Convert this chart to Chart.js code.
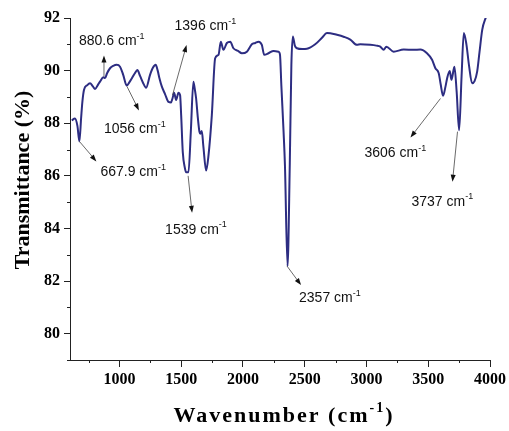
<!DOCTYPE html>
<html lang="en">
<head>
  <meta charset="UTF-8">
  <title>FTIR spectrum</title>
  <script src="https://cdn.jsdelivr.net/npm/chart.js"></script>
  <style>
    body { margin: 0; background: #fff; }
    #wrap { width: 509px; height: 431px; }
  </style>
</head>
<body>
<div id="wrap"><canvas id="ftir" width="509" height="431"></canvas></div>

<script>
  // Spectrum (wavenumber in cm-1, transmittance in %)
  const wavenumbers = [614, 640, 660, 676, 690, 700, 713, 740, 762, 785, 803, 825, 843, 870, 884, 900, 924, 950, 978, 1005,
    1030, 1059, 1080, 1100, 1125, 1145, 1167, 1190, 1216, 1248, 1270, 1294, 1310, 1324, 1343, 1370, 1397, 1418, 1430, 1443,
    1459, 1478, 1491, 1500, 1513, 1530, 1540, 1559, 1578, 1599, 1610, 1621, 1635, 1648, 1655, 1667, 1680, 1702, 1721, 1748,
    1775, 1802, 1821, 1842, 1870, 1897, 1923, 1960, 1991, 2032, 2072, 2100, 2126, 2153, 2172, 2207, 2248, 2288, 2300, 2311,
    2329, 2340, 2361, 2379, 2392, 2404, 2420, 2437, 2480, 2518, 2585, 2640, 2680, 2761, 2820, 2869, 2923, 2950, 3031, 3080,
    3112, 3139, 3161, 3220, 3301, 3382, 3436, 3490, 3531, 3558, 3585, 3600, 3620, 3640, 3653, 3674, 3688, 3712, 3730, 3750,
    3770, 3788, 3809, 3830, 3855, 3875, 3896, 3915, 3937, 3969];
  const transmittance = [88.11, 88.18, 87.9, 87.31, 88.2, 88.8, 89.26, 89.45, 89.52, 89.4, 89.3, 89.45, 89.58, 89.75, 89.72, 89.9, 90.09, 90.18, 90.22, 90.15,
    89.85, 89.43, 89.55, 89.7, 89.9, 90.02, 89.8, 89.55, 89.35, 89.84, 90.1, 90.22, 90.0, 89.71, 89.4, 89.1, 88.81, 88.79, 88.95, 89.16,
    88.88, 89.16, 89.07, 88.3, 86.9, 86.3, 86.14, 86.14, 87.67, 89.58, 89.3, 88.94, 88.2, 87.67, 87.6, 87.7, 87.1, 86.2, 86.77, 88.3,
    90.47, 90.6, 91.1, 90.79, 91.05, 91.1, 90.85, 90.75, 90.66, 90.72, 91.0, 91.05, 91.1, 90.98, 90.6, 90.66, 90.75, 90.72, 90.6, 89.43,
    87.67, 86.4, 82.57, 86.4, 90.2, 91.3, 90.95, 90.85, 90.82, 90.83, 91.0, 91.25, 91.43, 91.36, 91.28, 91.18, 90.98, 91.0, 90.98, 90.95,
    90.91, 90.79, 90.91, 90.72, 90.8, 90.79, 90.8, 90.66, 90.41, 90.09, 89.9, 89.5, 89.04, 89.4, 89.71, 89.99, 89.65, 90.15, 89.2, 87.73,
    89.8, 91.43, 91.0, 90.2, 89.52, 89.6, 89.96, 90.7, 91.55, 92.06];

  const xTicks = [1000, 1500, 2000, 2500, 3000, 3500, 4000];
  const yTicks = [80, 82, 84, 86, 88, 90, 92];

  // Labelled peaks: where the arrow starts on the curve
  const peakNames = ["667.9", "880.6", "1056", "1396", "1539", "2357", "3606", "3737"];
  const peakX = [676, 875, 1061, 1430, 1556, 2357, 3599, 3737];
  const peakY = [87.31, 89.78, 89.4, 89.07, 86.0, 82.57, 88.94, 87.68];

  // arrow head and label offsets in pixels from the arrow start
  const peakLayout = [
    { dx: 17, dy: 20, lx: 21, ly: 31 },
    { dx: 0, dy: -21, lx: -25, ly: -35 },
    { dx: 12, dy: 24, lx: -23, ly: 43 },
    { dx: 14, dy: -50, lx: 2, ly: -69 },
    { dx: 4, dy: 37, lx: -23, ly: 54 },
    { dx: 14, dy: 19, lx: 12, ly: 32 },
    { dx: -30, dy: 39, lx: -76, ly: 55 },
    { dx: -5, dy: 50, lx: -46, ly: 70 }
  ];

  const serif = '"Liberation Serif", "Times New Roman", serif';
  const sans = '"Liberation Sans", Arial, sans-serif';

  function textWithSup(ctx, base, sup, tail, x, y, size, sizeSup, rise, font) {
    // draws base + superscript + tail starting at x, baseline middle at y
    ctx.font = font.replace('SIZE', size);
    ctx.fillText(base, x, y);
    let w = ctx.measureText(base).width;
    ctx.font = font.replace('SIZE', sizeSup);
    ctx.fillText(sup, x + w, y - rise);
    w += ctx.measureText(sup).width;
    if (tail) {
      ctx.font = font.replace('SIZE', size);
      ctx.fillText(tail, x + w, y);
      w += ctx.measureText(tail).width;
    }
    return w;
  }

  const decorPlugin = {
    id: 'decor',
    afterDraw(chart) {
      const ctx = chart.ctx;
      const xs = chart.scales.x, ys = chart.scales.y;
      ctx.save();

      // minor ticks
      ctx.strokeStyle = '#222';
      ctx.lineWidth = 1;
      ctx.beginPath();
      for (let v = 750; v < 4000; v += 500) {
        const px = Math.round(xs.getPixelForValue(v)) + 0.5;
        ctx.moveTo(px, ys.bottom);
        ctx.lineTo(px, ys.bottom + 3);
      }
      for (let v = 79; v < 92; v += 2) {
        const py = Math.round(ys.getPixelForValue(v)) + 0.5;
        ctx.moveTo(xs.left, py);
        ctx.lineTo(xs.left - 3, py);
      }
      ctx.stroke();

      // peak arrows and labels
      ctx.textBaseline = 'middle';
      ctx.fillStyle = '#111';
      peakNames.forEach((name, i) => {
        const x0 = xs.getPixelForValue(peakX[i]);
        const y0 = ys.getPixelForValue(peakY[i]);
        const L = peakLayout[i];
        const x1 = x0 + L.dx, y1 = y0 + L.dy;
        const ang = Math.atan2(y1 - y0, x1 - x0);
        ctx.strokeStyle = '#444';
        ctx.lineWidth = 0.8;
        ctx.beginPath();
        ctx.moveTo(x0, y0);
        ctx.lineTo(x1 - 5 * Math.cos(ang), y1 - 5 * Math.sin(ang));
        ctx.stroke();
        ctx.fillStyle = '#111';
        ctx.beginPath();
        ctx.moveTo(x1, y1);
        ctx.lineTo(x1 - 7 * Math.cos(ang) + 2.5 * Math.sin(ang), y1 - 7 * Math.sin(ang) - 2.5 * Math.cos(ang));
        ctx.lineTo(x1 - 7 * Math.cos(ang) - 2.5 * Math.sin(ang), y1 - 7 * Math.sin(ang) + 2.5 * Math.cos(ang));
        ctx.closePath();
        ctx.fill();
        ctx.textAlign = 'left';
        textWithSup(ctx, name + ' cm', '-1', '', x0 + L.lx, y0 + L.ly, 14, 9, 5, 'SIZEpx ' + sans);
      });

      // axis titles
      ctx.fillStyle = '#000';
      ctx.textAlign = 'center';
      ctx.font = 'bold 22px ' + serif;
      ctx.translate(23, 180);
      ctx.rotate(-Math.PI / 2);
      ctx.fillText('Transmittance (%)', 0, 0);
      ctx.setTransform(1, 0, 0, 1, 0, 0);

      ctx.textAlign = 'left';
      ctx.letterSpacing = '2px';
      const font = 'bold SIZEpx ' + serif;
      ctx.font = 'bold 22px ' + serif;
      let w = ctx.measureText('Wavenumber (cm').width;
      ctx.font = 'bold 14px ' + serif;
      w += ctx.measureText('-1').width;
      ctx.font = 'bold 22px ' + serif;
      w += ctx.measureText(')').width;
      textWithSup(ctx, 'Wavenumber (cm', '-1', ')', 284 - w / 2, 416, 22, 14, 8, font);
      ctx.restore();
    }
  };

  const points = wavenumbers.map((w, i) => ({ x: w, y: transmittance[i] }));

  new Chart(document.getElementById('ftir'), {
    type: 'line',
    data: {
      datasets: [{
        data: points,
        borderColor: '#2d2d82',
        borderWidth: 2,
        pointRadius: 0,
        cubicInterpolationMode: 'monotone',
        fill: false
      }]
    },
    options: {
      responsive: false,
      animation: false,
      layout: { padding: { top: 18, right: 18, left: 0, bottom: 0 } },
      plugins: { legend: { display: false }, tooltip: { enabled: false } },
      scales: {
        x: {
          type: 'linear',
          min: 600,
          max: 4000,
          afterBuildTicks: s => { s.ticks = xTicks.map(v => ({ value: v })); },
          afterFit: s => { s.height = 71; },
          grid: { drawOnChartArea: false, tickLength: 7, color: '#222' },
          border: { color: '#222', width: 1 },
          ticks: {
            color: '#000', padding: 3, maxRotation: 0,
            callback: v => String(v),
            font: { family: serif, size: 16, weight: 'bold' }
          }
        },
        y: {
          min: 79,
          max: 92,
          afterBuildTicks: s => { s.ticks = yTicks.map(v => ({ value: v })); },
          afterFit: s => { s.width = 70; },
          grid: { drawOnChartArea: false, tickLength: 6, color: '#222' },
          border: { color: '#222', width: 1 },
          ticks: {
            color: '#000', padding: 4,
            callback: v => String(v),
            font: { family: serif, size: 16, weight: 'bold' }
          }
        }
      }
    },
    plugins: [decorPlugin]
  });
</script>
</body>
</html>
